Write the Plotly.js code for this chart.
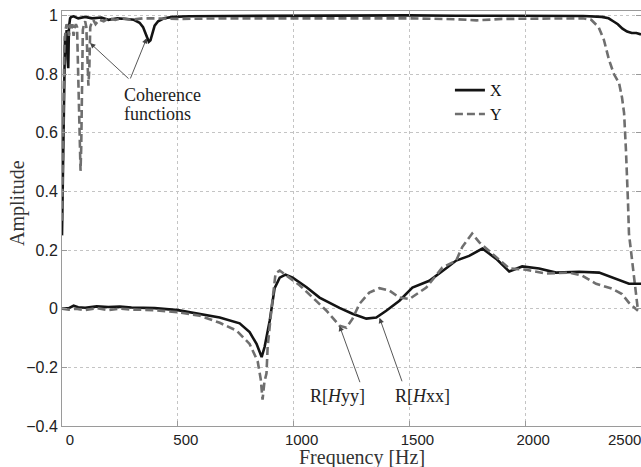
<!DOCTYPE html>
<html>
<head>
<meta charset="utf-8">
<script src="https://cdn.plot.ly/plotly-3.0.1.min.js"></script>
<style>html,body{margin:0;padding:0;background:#fff;}#chart{width:641px;height:467px;}</style>
</head>
<body>
<div id="chart"></div>
<script>
// Coherence function, X direction (black solid)
const cohX_f = [0, 2, 4, 6, 8, 10, 13, 16, 20, 24, 27, 30, 35, 40, 50, 70, 100, 130, 170, 200, 240, 280, 310, 335, 350, 360, 368, 375, 382, 390, 400, 415, 440, 480, 550, 700, 900, 1100, 1300, 1500, 1700, 1900, 2100, 2250, 2330, 2360, 2380, 2400, 2420, 2440, 2460, 2480, 2500];
const cohX = [0.25, 0.36, 0.55, 0.62, 0.80, 0.88, 0.93, 0.90, 0.95, 0.85, 0.82, 0.96, 0.99, 0.995, 0.997, 0.99, 0.995, 0.99, 0.993, 0.985, 0.99, 0.988, 0.985, 0.975, 0.96, 0.94, 0.92, 0.91, 0.915, 0.94, 0.965, 0.98, 0.99, 0.995, 0.997, 0.998, 0.999, 1.0, 0.999, 1.0, 0.999, 0.999, 0.999, 0.998, 0.995, 0.99, 0.98, 0.97, 0.955, 0.945, 0.94, 0.94, 0.935];

// Coherence function, Y direction (grey dashed)
const cohY_f = [0, 3, 6, 10, 15, 20, 25, 30, 35, 40, 45, 50, 55, 60, 65, 70, 75, 80, 83, 86, 90, 95, 100, 105, 110, 114, 118, 122, 128, 135, 145, 160, 180, 200, 230, 260, 300, 350, 400, 500, 700, 900, 1100, 1300, 1500, 1700, 1790, 1900, 2100, 2250, 2285, 2317, 2340, 2362, 2383, 2405, 2418, 2427, 2435, 2440, 2444, 2448, 2466, 2487];
const cohY = [0.3, 0.5, 0.7, 0.88, 0.95, 0.97, 0.96, 0.93, 0.97, 0.95, 0.97, 0.93, 0.96, 0.97, 0.96, 0.8, 0.6, 0.47, 0.55, 0.8, 0.95, 0.97, 0.98, 0.96, 0.85, 0.76, 0.82, 0.96, 0.975, 0.985, 0.97, 0.985, 0.98, 0.99, 0.985, 0.99, 0.985, 0.99, 0.99, 0.988, 0.99, 0.99, 0.99, 0.99, 0.99, 0.987, 0.983, 0.988, 0.99, 0.99, 0.985, 0.96, 0.916, 0.848, 0.80, 0.77, 0.72, 0.667, 0.54, 0.39, 0.36, 0.256, 0.14, -0.007];

// Real part of Hxx (black solid)
const hxx_f = [0, 30, 50, 70, 100, 150, 200, 250, 300, 400, 500, 595, 681, 767, 810, 840, 862, 875, 897, 918, 940, 965, 996, 1056, 1112, 1198, 1254, 1314, 1357, 1400, 1457, 1513, 1586, 1659, 1702, 1758, 1815, 1875, 1931, 1987, 2060, 2133, 2233, 2319, 2392, 2448, 2500];
const hxx = [0, 0.002, 0.01, 0.005, 0.003, 0.008, 0.006, 0.007, 0.004, 0.002, -0.005, -0.017, -0.03, -0.05, -0.08, -0.12, -0.165, -0.13, -0.04, 0.07, 0.106, 0.116, 0.106, 0.073, 0.038, 0.003, -0.017, -0.034, -0.03, -0.007, 0.027, 0.072, 0.095, 0.138, 0.164, 0.18, 0.205, 0.17, 0.127, 0.144, 0.137, 0.123, 0.126, 0.123, 0.103, 0.085, 0.085];

// Real part of Hyy (grey dashed)
const hyy_f = [0, 30, 60, 100, 150, 200, 250, 300, 400, 500, 595, 681, 754, 810, 845, 858, 866, 874, 883, 888, 905, 922, 940, 970, 1026, 1082, 1142, 1198, 1228, 1254, 1284, 1327, 1370, 1413, 1457, 1500, 1573, 1642, 1702, 1728, 1771, 1802, 1858, 1931, 2004, 2090, 2190, 2246, 2306, 2375, 2418, 2448, 2487];
const hyy = [0, -0.003, 0.0, -0.005, 0.002, -0.005, 0, -0.003, -0.005, -0.012, -0.024, -0.048, -0.075, -0.12, -0.18, -0.24, -0.31, -0.25, -0.22, -0.13, 0.003, 0.12, 0.13, 0.113, 0.08, 0.038, -0.007, -0.058, -0.065, -0.035, 0.016, 0.055, 0.07, 0.062, 0.038, 0.033, 0.072, 0.14, 0.164, 0.21, 0.256, 0.226, 0.188, 0.137, 0.133, 0.12, 0.123, 0.113, 0.085, 0.068, 0.05, 0.02, -0.007];

const xTicks = [0, 500, 1000, 1500, 2000, 2500];
const yTicks = [-0.4, -0.2, 0, 0.2, 0.4, 0.6, 0.8, 1];
const legendNames = ['X', 'Y'];
const xTitle = 'Frequency [Hz]';
const yTitle = 'Amplitude';

const BLACK = '#141414';
const GREY = '#6f6f6f';
const SERIF = '"Liberation Serif", "DejaVu Serif", serif';
const SANS = 'Arial, "Liberation Sans", sans-serif';

const traces = [
  {x: cohX_f, y: cohX, mode: 'lines', line: {color: BLACK, width: 2.6}, showlegend: false, hoverinfo: 'skip'},
  {x: cohY_f, y: cohY, mode: 'lines', line: {color: GREY, width: 2.6, dash: '8px,4px'}, showlegend: false, hoverinfo: 'skip'},
  {x: hxx_f, y: hxx, mode: 'lines', name: legendNames[0], line: {color: BLACK, width: 2.6}},
  {x: hyy_f, y: hyy, mode: 'lines', name: legendNames[1], line: {color: GREY, width: 2.6, dash: '8px,4px'}}
];

const arrowStyle = {showarrow: true, arrowhead: 2, arrowsize: 1.2, arrowwidth: 0.9, arrowcolor: '#444', text: '', xref: 'x', yref: 'y'};
const labelFont = {family: SERIF, size: 18, color: '#222'};
const titleFont = {family: SERIF, size: 20, color: '#333'};

const lastTick = xTicks[xTicks.length - 1];

const layout = {
  width: 641, height: 467,
  margin: {l: 62, r: 0, t: 11, b: 41},
  paper_bgcolor: '#fff', plot_bgcolor: '#fff',
  showlegend: true,
  legend: {x: 0.67, y: 0.85, xanchor: 'left', yanchor: 'top', bgcolor: 'rgba(0,0,0,0)', borderwidth: 0,
           font: {family: SERIF, size: 16, color: '#111'}, tracegroupgap: 0, itemwidth: 30},
  xaxis: {
    range: [0, 2500], tickvals: xTicks, ticktext: xTicks.map((v, i) => i === xTicks.length - 1 ? '' : String(v)),
    ticklabelshift: 8,
    showgrid: true, gridcolor: '#c4c4c4', griddash: 'dot', gridwidth: 1,
    zeroline: false, showline: true, linecolor: '#9a9a9a', linewidth: 1, mirror: 'ticks',
    ticks: 'inside', ticklen: 5, tickcolor: '#9a9a9a',
    tickfont: {family: SANS, size: 15, color: '#222'}
  },
  yaxis: {
    range: [-0.4, 1.015], tickvals: yTicks, ticktext: yTicks.map(v => v < 0 ? '\u2212' + Math.abs(v) : String(v)),
    showgrid: true, gridcolor: '#c4c4c4', griddash: 'dot', gridwidth: 1,
    zeroline: false, showline: true, linecolor: '#9a9a9a', linewidth: 1, mirror: 'ticks',
    ticks: 'inside', ticklen: 5, tickcolor: '#9a9a9a',
    tickfont: {family: SANS, size: 16, color: '#222'}
  },
  annotations: [
    // axis titles
    {x: 0.518, y: -0.076, xref: 'paper', yref: 'paper', showarrow: false, xanchor: 'center', yanchor: 'middle',
     text: xTitle, font: titleFont},
    {x: -0.078, y: 0.537, xref: 'paper', yref: 'paper', showarrow: false, xanchor: 'center', yanchor: 'middle',
     textangle: -90, text: yTitle, font: titleFont},
    // last x tick label, drawn inside the figure edge as in the reference
    {x: lastTick, y: 0, xref: 'x', yref: 'paper', showarrow: false, xanchor: 'right', yanchor: 'top',
     xshift: 2, yshift: -3, text: String(lastTick), font: {family: SANS, size: 15, color: '#222'}},
    Object.assign({}, arrowStyle, {x: 121, y: 0.906, ax: 40, ay: 37}),
    Object.assign({}, arrowStyle, {x: 366, y: 0.923, ax: -17, ay: 42}),
    Object.assign({}, arrowStyle, {x: 1198, y: -0.058, ax: 21, ay: 58}),
    Object.assign({}, arrowStyle, {x: 1371, y: -0.031, ax: 23, ay: 65}),
    {x: 435, y: 0.727, xref: 'x', yref: 'y', showarrow: false, text: 'Coherence', font: labelFont},
    {x: 413, y: 0.665, xref: 'x', yref: 'y', showarrow: false, text: 'functions', font: labelFont},
    {x: 1190, y: -0.297, xref: 'x', yref: 'y', showarrow: false,
     text: 'R[<i>H</i>yy]', font: labelFont},
    {x: 1556, y: -0.297, xref: 'x', yref: 'y', showarrow: false,
     text: 'R[<i>H</i>xx]', font: labelFont}
  ]
};

Plotly.newPlot('chart', traces, layout, {displayModeBar: false, staticPlot: true});
</script>
</body>
</html>
